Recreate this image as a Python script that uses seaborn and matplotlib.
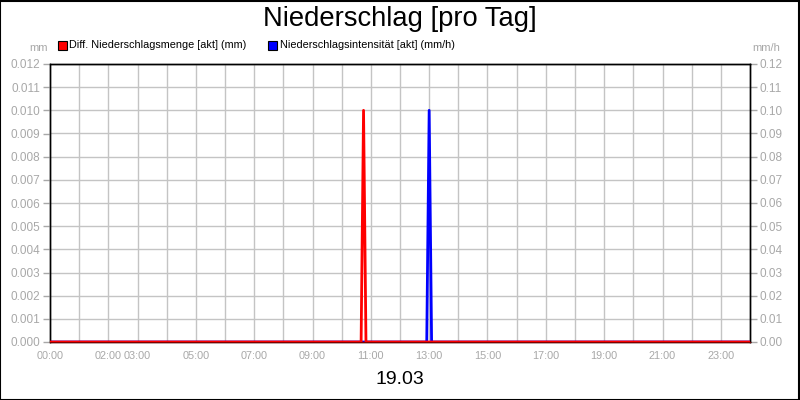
import matplotlib
matplotlib.use("Agg")
import matplotlib.pyplot as plt
from matplotlib.patches import Rectangle
import seaborn as sns
import pandas as pd

# ---- data ----
red_times = ["00:00", "10:40", "10:45", "10:50", "24:00"]
red_values = [0.0, 0.0, 0.010, 0.0, 0.0]          # mm
blue_times = ["00:00", "12:55", "13:00", "13:05", "24:00"]
blue_values = [0.0, 0.0, 0.10, 0.0, 0.0]          # mm/h

x_tick_hours = list(range(0, 24))
x_tick_labels = ["00:00", "", "02:00", "03:00", "", "05:00", "", "07:00", "", "09:00", "",
                 "11:00", "", "13:00", "", "15:00", "", "17:00", "", "19:00", "", "21:00", "", "23:00"]
left_ticks = [i / 1000 for i in range(13)]
right_ticks = [i / 100 for i in range(13)]

title = "Niederschlag [pro Tag]"
date_label = "19.03"
red_name = "Diff. Niederschlagsmenge [akt] (mm)"
blue_name = "Niederschlagsintensität [akt] (mm/h)"


def to_hours(t):
    h, m = t.split(":")
    return int(h) + int(m) / 60


red_df = pd.DataFrame({"h": [to_hours(t) for t in red_times], "v": red_values})
blue_df = pd.DataFrame({"h": [to_hours(t) for t in blue_times], "v": blue_values})

sns.set_theme(style="white")
plt.rcParams["font.family"] = ["Liberation Sans", "DejaVu Sans"]

gray = "#a8a8a8"
gridc = "#c4c4c4"

fig = plt.figure(figsize=(8, 4), dpi=100)
fig.patch.set_facecolor("white")
ax = fig.add_axes([50 / 800, 58 / 400, 700 / 800, 278 / 400])
ax2 = ax.twinx()

sns.lineplot(data=blue_df, x="h", y="v", ax=ax2, color="#0000ff", lw=2, zorder=3)
sns.lineplot(data=red_df, x="h", y="v", ax=ax, color="#ff0000", lw=2, zorder=3)
ax.set_zorder(ax2.get_zorder() + 1)
ax.patch.set_visible(False)

ax.set_xlim(0, 24)
ax.set_ylim(0, 0.012)
ax2.set_ylim(0, 0.12)
ax.set_xticks(x_tick_hours)
ax.set_xticklabels(x_tick_labels)
ax.set_yticks(left_ticks)
ax.set_yticklabels([f"{v:.3f}" for v in left_ticks])
ax2.set_yticks(right_ticks)
ax2.set_yticklabels([f"{v:.2f}" for v in right_ticks])
ax.set_xlabel("")
ax.set_ylabel("")
ax2.set_ylabel("")

ax2.grid(False)
for xv in x_tick_hours[1:]:
    ax2.axvline(xv, color=gridc, lw=1, zorder=0)
for yv in right_ticks[1:]:
    ax2.axhline(yv, color=gridc, lw=1, zorder=0)

for a in (ax, ax2):
    a.tick_params(axis="both", which="both", colors=gray, labelcolor=gray,
                  labelsize=8.5, length=5, width=1, direction="out", pad=2)
    for s in a.spines.values():
        s.set_color("black")
        s.set_linewidth(1)
ax.tick_params(axis="x", pad=1.5, labelsize=7.8)
ax.spines["bottom"].set_color("#800000")

fig.text(0.5, 0.953, title, ha="center", va="center", fontsize=19.7, color="black")
fig.text(0.5, 1 - 380 / 400, date_label, ha="center", va="center", fontsize=14, color="black")
fig.text(48 / 800, 1 - 48 / 400, "mm", ha="right", va="center", fontsize=8, color=gray)
fig.text(752 / 800, 1 - 48 / 400, "mm/h", ha="left", va="center", fontsize=8, color=gray)

ly = 1 - 45 / 400
fig.add_artist(Rectangle((58 / 800, ly - 5 / 400), 9 / 800, 9 / 400, transform=fig.transFigure,
                         facecolor="#ff0000", edgecolor="black", lw=0.8))
fig.text(69 / 800, ly, red_name, ha="left", va="center", fontsize=7.8, color="black")
fig.add_artist(Rectangle((268 / 800, ly - 5 / 400), 9 / 800, 9 / 400, transform=fig.transFigure,
                         facecolor="#0000ff", edgecolor="black", lw=0.8))
fig.text(280 / 800, ly, blue_name, ha="left", va="center", fontsize=7.8, color="black")

fig.add_artist(Rectangle((0.0006, 0.0012), 0.9985, 0.997, transform=fig.transFigure,
                         fill=False, edgecolor="black", lw=1.5))

fig.savefig("out.png", dpi=100, facecolor="white")
